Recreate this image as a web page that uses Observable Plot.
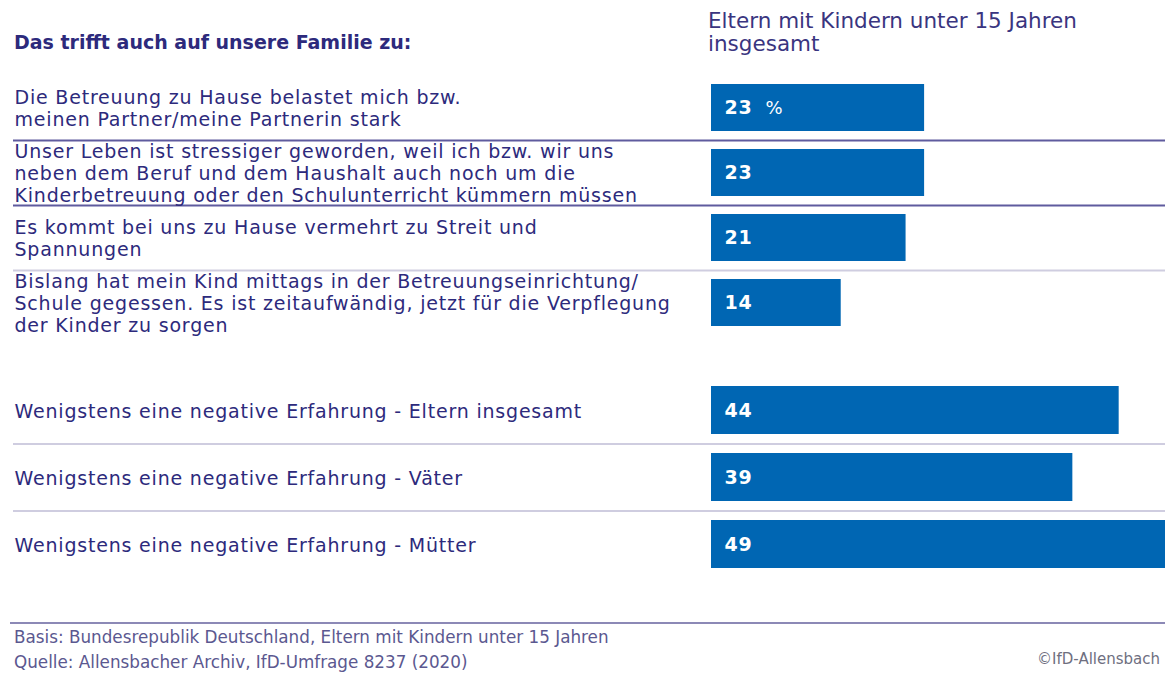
<!DOCTYPE html>
<html><head><meta charset="utf-8">
<script src="https://cdn.jsdelivr.net/npm/d3@7"></script>
<script src="https://cdn.jsdelivr.net/npm/@observablehq/plot@0.6"></script>
<style>
body{margin:0;background:#fff;font-family:"DejaVu Sans",sans-serif;}
#wrap{position:relative;width:1165px;height:675px;overflow:hidden;background:#fff;}
.abs{position:absolute;}
#title{left:14px;top:31px;font-size:19px;line-height:22px;font-weight:bold;color:#2d2a7c;white-space:nowrap;}
#colhead{left:708px;top:9px;font-size:21.5px;line-height:23px;color:#3a3580;white-space:pre;}
#chartA{left:0;top:75px;}
#chartB{left:0;top:335px;}
#chartA svg text, #chartB svg text{letter-spacing:0.8px;}
#footline{left:10px;top:622px;width:1155px;height:0;border-top:2px solid #8c89b6;}
#footer{left:14px;top:625px;font-size:16.8px;line-height:25px;color:#5b5890;white-space:pre;}
#copy{right:5px;top:650px;font-size:15px;color:#6f6f7f;}
</style></head><body>
<div id="wrap">
  <div id="title" class="abs"></div>
  <div id="colhead" class="abs"></div>
  <div id="chartA" class="abs"></div>
  <div id="chartB" class="abs"></div>
  <div id="footline" class="abs"></div>
  <div id="footer" class="abs"></div>
  <div id="copy" class="abs"></div>
</div>
<script>
const titleText = "Das trifft auch auf unsere Familie zu:";
const columnHeader = "Eltern mit Kindern unter 15 Jahren\ninsgesamt";
const topItems = [
  "Die Betreuung zu Hause belastet mich bzw.\nmeinen Partner/meine Partnerin stark",
  "Unser Leben ist stressiger geworden, weil ich bzw. wir uns\nneben dem Beruf und dem Haushalt auch noch um die\nKinderbetreuung oder den Schulunterricht kümmern müssen",
  "Es kommt bei uns zu Hause vermehrt zu Streit und\nSpannungen",
  "Bislang hat mein Kind mittags in der Betreuungseinrichtung/\nSchule gegessen. Es ist zeitaufwändig, jetzt für die Verpflegung\nder Kinder zu sorgen"
];
const topValues = [23, 23, 21, 14];
const bottomItems = [
  "Wenigstens eine negative Erfahrung - Eltern insgesamt",
  "Wenigstens eine negative Erfahrung - Väter",
  "Wenigstens eine negative Erfahrung - Mütter"
];
const bottomValues = [44, 39, 49];
const footerText = "Basis: Bundesrepublik Deutschland, Eltern mit Kindern unter 15 Jahren\nQuelle: Allensbacher Archiv, IfD-Umfrage 8237 (2020)";
const copyright = "©IfD-Allensbach";
const unit = "%";

document.getElementById("title").textContent = titleText;
document.getElementById("colhead").textContent = columnHeader;
document.getElementById("footer").textContent = footerText;
document.getElementById("copy").textContent = copyright;

const barColor = "#0066b3";
const labelColor = "#2d2a7c";

function makeChart(items, values, height, marginTop, ruleColor, showUnit) {
  const rows = items.map((label, i) => ({label, value: values[i], i}));
  const step = (height - marginTop) / rows.length;
  return Plot.plot({
    width: 1165,
    height,
    marginTop,
    marginBottom: 0,
    marginLeft: 13,
    marginRight: 0,
    style: {background: "transparent", fontFamily: "DejaVu Sans, sans-serif", overflow: "visible"},
    x: {domain: [0, 49], range: [711, 1165], axis: null},
    y: {domain: items, axis: null, paddingInner: 0.28, paddingOuter: 0.14},
    marks: [
      Plot.ruleY(rows.slice(1), {y: "label", dy: -step / 2, stroke: ruleColor, strokeWidth: 2}),
      Plot.barX(rows, {y: "label", x: "value", fill: barColor}),
      Plot.text(rows, {y: "label", text: "label", frameAnchor: "left", dx: 1, textAnchor: "start",
        fill: labelColor, fontSize: 19, lineHeight: 1.16}),
      Plot.text(rows, {y: "label", x: 0, text: d => String(d.value), dx: 13, textAnchor: "start",
        fill: "white", fontSize: 19, fontWeight: "bold"}),
      showUnit ? Plot.text(rows.slice(0, 1), {y: "label", x: 0, text: () => unit, dx: 54, textAnchor: "start",
        fill: "white", fontSize: 18}) : null
    ]
  });
}

const ruleColorsTop = (d) => d.i < 3 ? "#5f5b9e" : "#cfcde0";
document.getElementById("chartA").append(makeChart(topItems, topValues, 260, 0, ruleColorsTop, true));
document.getElementById("chartB").append(makeChart(bottomItems, bottomValues, 243, 42, "#cfcde0", false));
</script>
</body></html>
